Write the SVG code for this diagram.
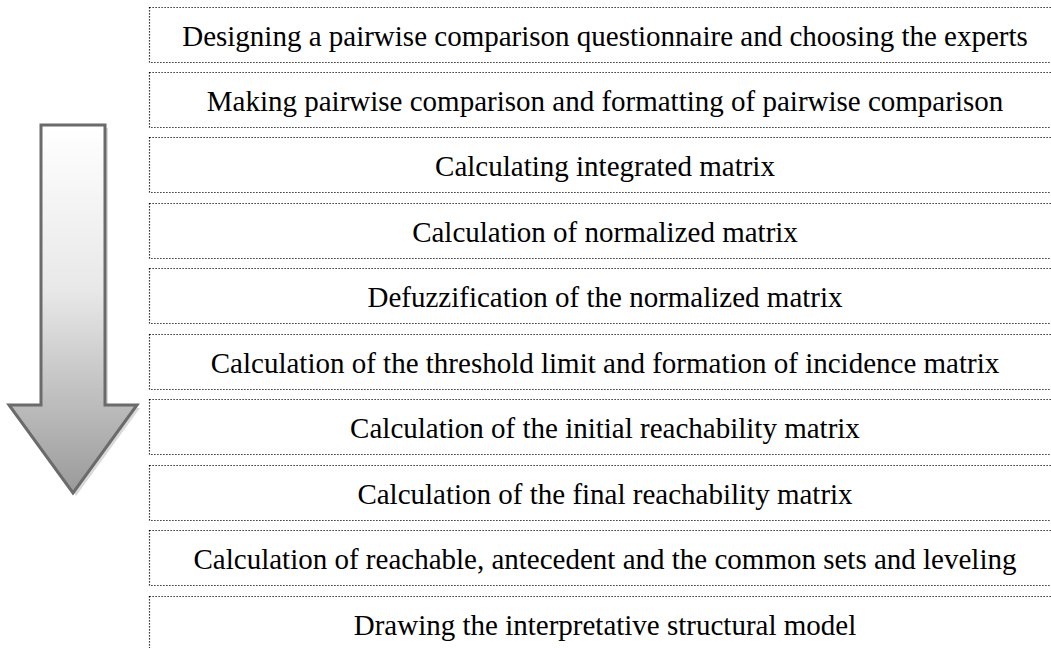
<svg xmlns="http://www.w3.org/2000/svg" width="1051" height="648" viewBox="0 0 1051 648">
<style>
.box{fill:#ffffff;stroke:#000;stroke-width:1.2;stroke-dasharray:1.2 1.8}
.lbl{font-family:"Liberation Serif","Times New Roman",serif;font-size:29px;fill:#000;text-anchor:middle}
</style>
<defs>
<linearGradient id="ag" x1="0" y1="0" x2="0" y2="1">
<stop offset="0" stop-color="#ffffff"/>
<stop offset="0.45" stop-color="#e8e8e8"/>
<stop offset="1" stop-color="#9a9a9a"/>
</linearGradient>
</defs>
<rect width="1051" height="648" fill="#ffffff"/>
<g id="arrow">
<path d="M44 128 H108 V408 H140 L76 496 L12 408 H44 Z" fill="#cfcfcf" opacity="0.8"/>
<path d="M41 125 H105 V405 H137 L73 493 L9 405 H41 Z" fill="url(#ag)" stroke="#6b6b6b" stroke-width="3" stroke-linejoin="miter"/>
</g>
<g id="n1"><rect class="box" x="149.5" y="7.5" width="910" height="55"/><text class="lbl" x="605" y="46">Designing a pairwise comparison questionnaire and choosing the experts</text></g>
<g id="n2"><rect class="box" x="149.5" y="72.5" width="910" height="55"/><text class="lbl" x="605" y="111">Making pairwise comparison and formatting of pairwise comparison</text></g>
<g id="n3"><rect class="box" x="149.5" y="137.5" width="910" height="55"/><text class="lbl" x="605" y="176">Calculating integrated matrix</text></g>
<g id="n4"><rect class="box" x="149.5" y="203.5" width="910" height="55"/><text class="lbl" x="605" y="242">Calculation of normalized matrix</text></g>
<g id="n5"><rect class="box" x="149.5" y="268.5" width="910" height="55"/><text class="lbl" x="605" y="307">Defuzzification of the normalized matrix</text></g>
<g id="n6"><rect class="box" x="149.5" y="334.5" width="910" height="55"/><text class="lbl" x="605" y="373">Calculation of the threshold limit and formation of incidence matrix</text></g>
<g id="n7"><rect class="box" x="149.5" y="399.5" width="910" height="55"/><text class="lbl" x="605" y="438">Calculation of the initial reachability matrix</text></g>
<g id="n8"><rect class="box" x="149.5" y="465.5" width="910" height="55"/><text class="lbl" x="605" y="504">Calculation of the final reachability matrix</text></g>
<g id="n9"><rect class="box" x="149.5" y="530.5" width="910" height="55"/><text class="lbl" x="605" y="569">Calculation of reachable, antecedent and the common sets and leveling</text></g>
<g id="n10"><rect class="box" x="149.5" y="596.5" width="910" height="55"/><text class="lbl" x="605" y="635">Drawing the interpretative structural model</text></g>
<g id="connectors"></g>
</svg>
